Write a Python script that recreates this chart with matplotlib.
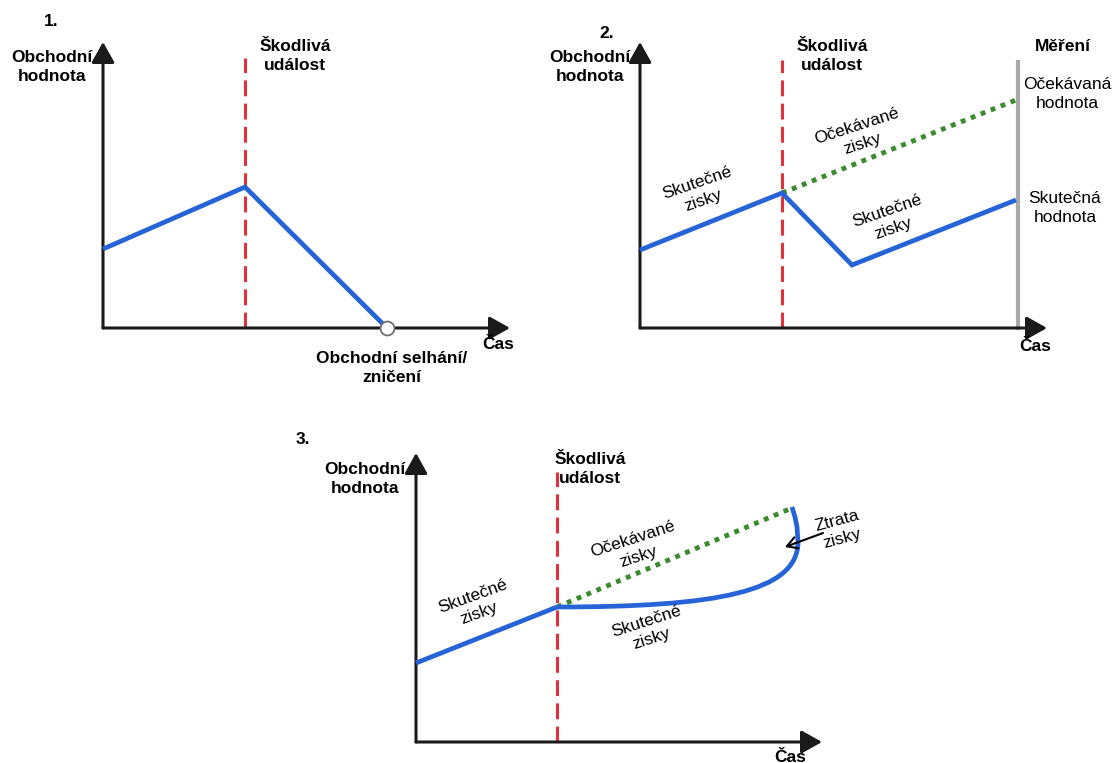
import matplotlib
matplotlib.use('Agg')
import matplotlib.pyplot as plt
from matplotlib.path import Path
from matplotlib.patches import PathPatch

plt.rcParams['font.family'] = ['Liberation Sans', 'DejaVu Sans']

"""
DATA (time / value measured from each panel's origin)
"""
# Panel 1: failure
p1_event = 142
p1_time = [0, 142, 284]
p1_value = [79, 141, 0]

# Panel 2: measured vs expected
p2_event = 142
p2_time = [0, 142, 212, 376]
p2_value = [78, 135, 63, 128]
p2_exp_time = [142, 376]
p2_exp_value = [135, 228]
p2_measure = 378

# Panel 3: lost profit
p3_event = 141
p3_time = [0, 141]
p3_value = [79, 135]
p3_curve_time = [141, 300, 382, 382, 381, 379, 376]
p3_curve_value = [135, 135, 150, 200, 215, 225, 235]
p3_exp_time = [141, 376]
p3_exp_value = [135, 234]

"""
STYLE
"""
FW, FH = 1114, 763
BLUE = '#2563d6'
RED = '#e0323c'
GREEN = '#3b8a2e'
GRAY = '#a8a8a8'
AXC = '#1a1a1a'
FS = 12.5
LS = 1.27


def make_panel(fig, x0, y0, W, H):
    # x0, y0 = origin in figure pixels (top-left based), W, H = axis lengths
    ax = fig.add_axes([x0 / FW, (FH - y0) / FH, W / FW, H / FH])
    ax.set_xlim(0, W)
    ax.set_ylim(0, H)
    ax.axis('off')
    style = '-|>,head_length=0.5,head_width=0.28'
    for tip in [(W, 0), (0, H)]:
        ax.annotate('', xy=tip, xytext=(0, 0), annotation_clip=False,
                    arrowprops=dict(arrowstyle=style, color=AXC, lw=2.2,
                                    mutation_scale=25, shrinkA=0, shrinkB=0))
    return ax


def event_line(ax, x, top):
    ax.plot([x, x], [0, top], color=RED, lw=2.2, dashes=(5.2, 2.4),
            clip_on=False, zorder=2)


def bold(ax, x, y, s, **kw):
    ax.text(x, y, s, fontsize=FS, fontweight='bold', ha='center', va='center',
            linespacing=LS, clip_on=False, **kw)


def norm(ax, x, y, s, rot=0):
    ax.text(x, y, s, fontsize=FS, ha='center', va='center', rotation=rot,
            rotation_mode='anchor', linespacing=LS, clip_on=False)


fig = plt.figure(figsize=(FW / 100, FH / 100), dpi=100)

# ---- Panel 1
ax1 = make_panel(fig, 103, 328, 407, 286)
event_line(ax1, p1_event, 270)
ax1.plot(p1_time, p1_value, color=BLUE, lw=3.4, solid_joinstyle='miter',
         solid_capstyle='butt', clip_on=False, zorder=3)
ax1.plot(p1_time[-1], p1_value[-1], 'o', ms=10, mfc='white', mec='#707070',
         mew=1.3, clip_on=False, zorder=4)
bold(ax1, -52, 306, '1.')
bold(ax1, -51, 261, 'Obchodní\nhodnota')
bold(ax1, 192, 272, 'Škodlivá\nudálost')
bold(ax1, 289, -40, 'Obchodní selhání/\nzničení')
bold(ax1, 395, -17, 'Čas')

# ---- Panel 2
ax2 = make_panel(fig, 640, 328, 407, 286)
event_line(ax2, p2_event, 268)
ax2.plot([p2_measure, p2_measure], [0, 266], color=GRAY, lw=3, clip_on=False, zorder=2)
ax2.plot(p2_exp_time, p2_exp_value, color=GREEN, lw=3.5, ls=(0, (1, 1.2)),
         clip_on=False, zorder=3)
ax2.plot(p2_time, p2_value, color=BLUE, lw=3.4, solid_joinstyle='miter',
         solid_capstyle='butt', clip_on=False, zorder=3)
bold(ax2, -33, 294, '2.')
bold(ax2, -50, 261, 'Obchodní\nhodnota')
bold(ax2, 192, 272, 'Škodlivá\nudálost')
bold(ax2, 423, 281, 'Měření')
bold(ax2, 395, -19, 'Čas')
norm(ax2, 427, 234, 'Očekávaná\nhodnota')
norm(ax2, 425, 120, 'Skutečná\nhodnota')
norm(ax2, 60, 136, 'Skutečné\nzisky', 19)
norm(ax2, 220, 193, 'Očekávané\nzisky', 18)
norm(ax2, 250, 108, 'Skutečné\nzisky', 19)

# ---- Panel 3
ax3 = make_panel(fig, 416, 742, 406, 289)
event_line(ax3, p3_event, 270)
ax3.plot(p3_exp_time, p3_exp_value, color=GREEN, lw=3.5, ls=(0, (1, 1.2)),
         clip_on=False, zorder=3)
ax3.plot(p3_time, p3_value, color=BLUE, lw=3.4, solid_capstyle='butt',
         clip_on=False, zorder=3)
codes = [Path.MOVETO, Path.CURVE4, Path.CURVE4, Path.CURVE4,
         Path.LINETO, Path.LINETO, Path.LINETO]
curve = Path(list(zip(p3_curve_time, p3_curve_value)), codes)
ax3.add_patch(PathPatch(curve, fc='none', ec=BLUE, lw=3.4, clip_on=False,
                        zorder=3, capstyle='butt'))
ax3.annotate('', xy=(369, 195), xytext=(407, 209), annotation_clip=False,
             arrowprops=dict(arrowstyle='->,head_length=0.6,head_width=0.35',
                             color='black', lw=1.5, mutation_scale=12,
                             shrinkA=0, shrinkB=0))
bold(ax3, -113, 302, '3.')
bold(ax3, -51, 263, 'Obchodní\nhodnota')
bold(ax3, 174, 273, 'Škodlivá\nudálost')
bold(ax3, 374, -15, 'Čas')
norm(ax3, 60, 137, 'Skutečné\nzisky', 20)
norm(ax3, 220, 194, 'Očekávané\nzisky', 18)
norm(ax3, 233, 112, 'Skutečné\nzisky', 18)
norm(ax3, 424, 212, 'Ztrata\nzisky', 15)

plt.savefig('out.png', dpi=100)
plt.close()
